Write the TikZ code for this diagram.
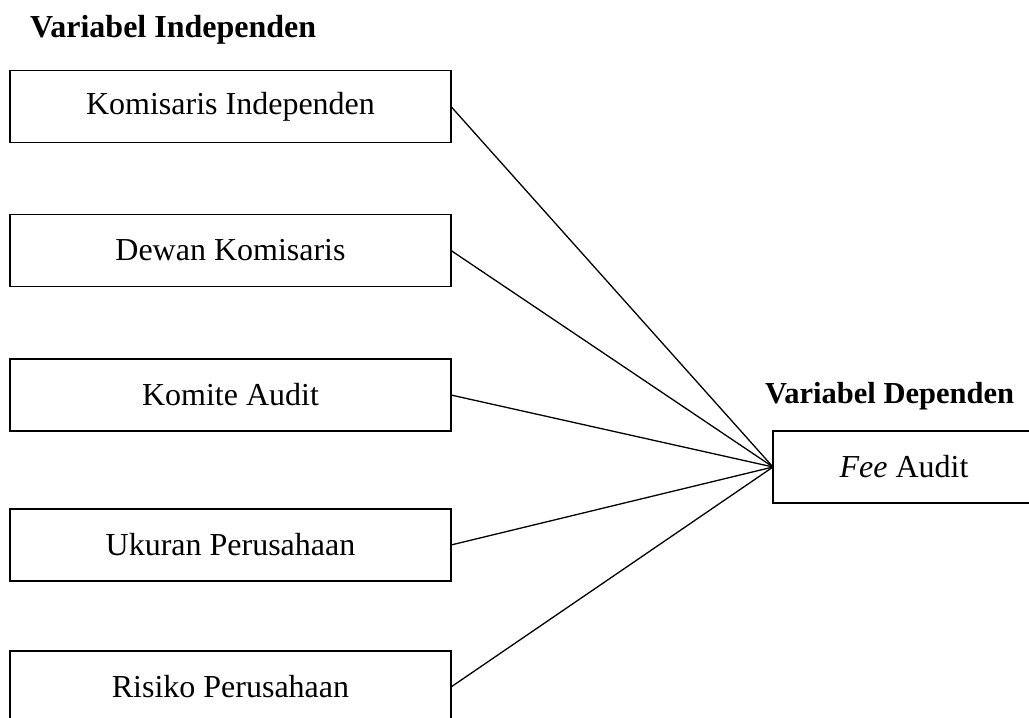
\documentclass[tikz,border=0pt]{standalone}
\usepackage{fontspec}
\setmainfont{Liberation Serif}
\usepackage{tikz}
\usetikzlibrary{arrows}
\tikzset{varbox/.style={draw, line width=1.3pt, inner sep=0pt, outer sep=0pt,
        minimum width=441pt, minimum height=72pt},
        vartitle/.style={anchor=base west, inner sep=0pt, font=\bfseries}}

\begin{document}
\begin{tikzpicture}[x=1pt,y=-1pt]
                \useasboundingbox (0,0) rectangle (1029,718);
                \fontsize{32}{38}\selectfont
                 \node[vartitle] (judulx) at (30,37) {Variabel Independen};
                 \node[vartitle, font=\fontsize{30.5}{36}\selectfont\bfseries] (juduly) at (765,403) {Variabel Dependen};
                 \node[varbox] (ki) at (230.5,106.5) {Komisaris Independen};
                 \node[varbox] (dk) at (230.5,250.5) {Dewan Komisaris};
                 \node[varbox] (ka) at (230.5,395) {Komite Audit};
                 \node[varbox] (up) at (230.5,545) {Ukuran Perusahaan};
                 \node[varbox] (rp) at (230.5,687) {Risiko Perusahaan};
                 \node[varbox, minimum width=262pt] (fa) at (904,467) {\textit{Fee} Audit};
                 \foreach \v in {ki,dk,ka,up,rp}
                   \draw[line width=1.3pt] (\v.east) -- (fa.west);
            \end{tikzpicture}
\end{document}
